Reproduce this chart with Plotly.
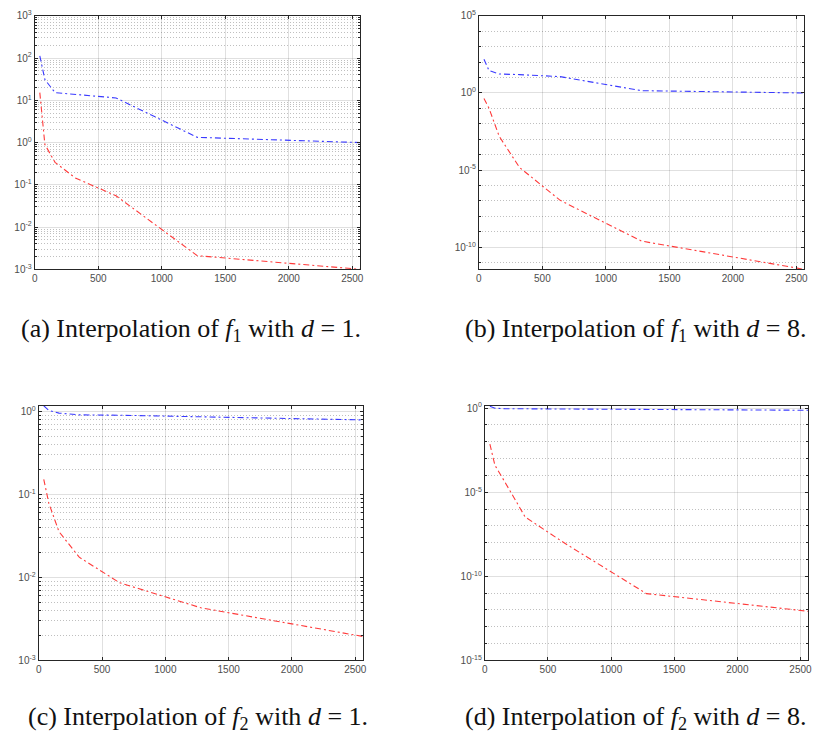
import plotly.graph_objects as go
import numpy as np

# ---- data ----
n_points = [40, 80, 160, 320, 640, 1280, 2560]

a_blue = [113, 31, 15.2, 14.0, 11.4, 1.33, 1.0]
a_red = [15.2, 0.9, 0.34, 0.145, 0.055, 0.0021, 0.001]

b_blue = [10**2.19, 10**1.45, 10**1.23, 10**1.19, 10**1.06, 10**0.15, 1.0]
b_red = [10**-0.36, 10**-1.0, 10**-2.81, 10**-4.83, 10**-6.96, 10**-9.6, 10**-11.43]

c_blue = [1.17, 1.03, 0.955, 0.91, 0.90, 0.857, 0.79]
c_red = [0.152, 0.0785, 0.0356, 0.0175, 0.0086, 0.0043, 0.00194]

d_blue = [1.3, 1.0, 0.93, 0.92, 0.91, 0.88, 0.75]
d_red = [10**-2.14, 10**-3.40, 10**-4.41, 10**-6.48, 10**-8.07, 10**-11.03, 10**-12.08]

captions = [
    "(a) Interpolation of <i>f</i><sub>1</sub> with <i>d</i> = 1.",
    "(b) Interpolation of <i>f</i><sub>1</sub> with <i>d</i> = 8.",
    "(c) Interpolation of <i>f</i><sub>2</sub> with <i>d</i> = 1.",
    "(d) Interpolation of <i>f</i><sub>2</sub> with <i>d</i> = 8.",
]

x_ticks = [0, 500, 1000, 1500, 2000, 2500]

W, H = 817, 741
panels = [
    dict(px=(32, 360), py=(9, 267), yr=(-3, 3), major=[-3, -2, -1, 0, 1, 2, 3], minor="digits",
         blue=a_blue, red=a_red, cap=(16, 329)),
    dict(px=(480, 808), py=(9, 267), yr=(-11.43, 5), major=[-10, -5, 0, 5], minor="decades",
         blue=b_blue, red=b_red, cap=(464, 329)),
    dict(px=(36, 363), py=(406, 665), yr=(-3, 0.067), major=[-3, -2, -1, 0], minor="digits",
         blue=c_blue, red=c_red, cap=(23, 724)),
    dict(px=(486, 812), py=(406, 665), yr=(-15, 0.136), major=[-15, -10, -5, 0], minor="decades",
         blue=d_blue, red=d_red, cap=(464, 724)),
]

fig = go.Figure()
axis_col = "#262626"
grid_col = "rgba(0,0,0,0.12)"
minor_col = "rgba(0,0,0,0.25)"
tick_font = dict(family="Liberation Sans, Arial, sans-serif", size=10, color="#4d4d4d")
line_dash = "6px,3px,2px,3px"

for i, p in enumerate(panels):
    k = "" if i == 0 else str(i + 1)
    xa = "x" + k
    ya = "y" + k
    fig.add_trace(go.Scatter(x=n_points, y=p["blue"], mode="lines", xaxis=xa, yaxis=ya,
                             line=dict(color="#3a3aff", width=1.1, dash=line_dash),
                             showlegend=False))
    fig.add_trace(go.Scatter(x=n_points, y=p["red"], mode="lines", xaxis=xa, yaxis=ya,
                             line=dict(color="#ff3a3a", width=1.1, dash=line_dash),
                             showlegend=False))
    lo, hi = p["yr"]
    if p["minor"] == "digits":
        minor_vals = [m * 10.0**e for e in range(int(np.floor(lo)), int(np.ceil(hi)))
                      for m in range(2, 10)]
    else:
        minor_vals = [10.0**e for e in range(int(np.floor(lo)), int(np.ceil(hi)) + 1)
                      if e not in p["major"]]
    x0, x1 = p["px"]
    yt, yb = p["py"]
    fig.layout["xaxis" + k] = dict(
        domain=[x0 / W, x1 / W], anchor=ya, range=[0, 2560],
        tickvals=x_ticks, ticktext=[str(v) for v in x_ticks],
        showgrid=True, gridcolor=grid_col, gridwidth=1,
        showline=True, linecolor=axis_col, linewidth=1, mirror="allticks",
        ticks="inside", ticklen=3, tickcolor=axis_col, tickfont=tick_font,
        zeroline=False, fixedrange=True,
    )
    fig.layout["yaxis" + k] = dict(
        domain=[1 - yb / H, 1 - yt / H], anchor=xa, type="log", range=[lo, hi],
        tickvals=[10.0**e for e in p["major"]],
        ticktext=["10<sup>%d</sup>" % e for e in p["major"]],
        showgrid=True, gridcolor=grid_col, gridwidth=1,
        showline=True, linecolor=axis_col, linewidth=1, mirror="allticks",
        ticks="inside", ticklen=3, tickcolor=axis_col, tickfont=tick_font,
        minor=dict(tickmode="array", tickvals=minor_vals, showgrid=True,
                   gridcolor=minor_col, griddash="1px,2px", gridwidth=1,
                   ticks="inside", ticklen=2, tickcolor=axis_col),
        zeroline=False, fixedrange=True,
    )
    cx, cy = p["cap"]
    fig.add_annotation(text=captions[i], x=cx / W, y=1 - cy / H, xref="paper", yref="paper",
                       xanchor="left", yanchor="middle", showarrow=False,
                       font=dict(family="Liberation Serif, serif", size=26, color="#111111"))

fig.update_layout(width=W, height=H, margin=dict(l=0, r=0, t=0, b=0),
                  plot_bgcolor="white", paper_bgcolor="white")

fig.write_html("out.html", config={"displayModeBar": False},
               post_script="document.body.style.margin='0px';")
